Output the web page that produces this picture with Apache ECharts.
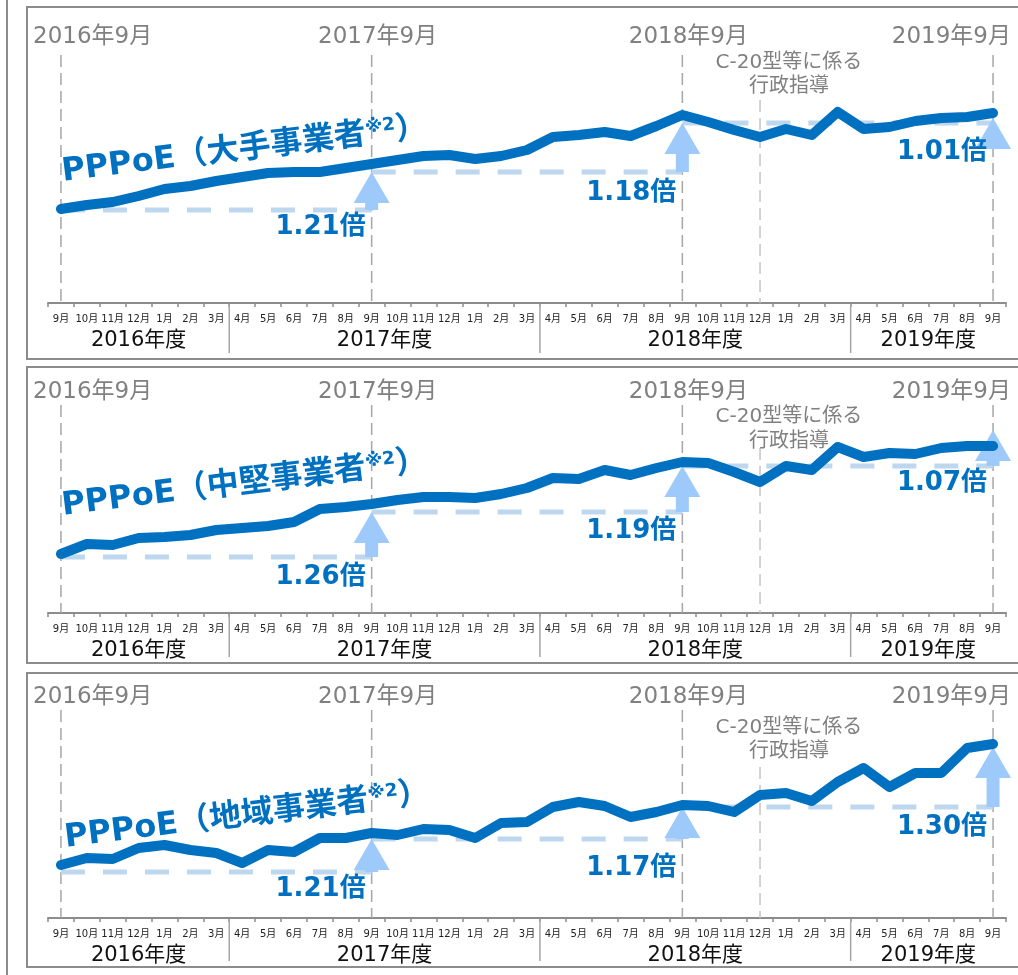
<!DOCTYPE html>
<html><head><meta charset="utf-8">
<script src="https://cdn.jsdelivr.net/npm/echarts@6/dist/echarts.min.js"></script>
<style>html,body{margin:0;padding:0;background:#fff}#c{width:1018px;height:975px}</style>
</head><body><div id="c"></div>
<script>
// ---------- data ----------
const months = ['9月','10月','11月','12月','1月','2月','3月','4月','5月','6月','7月','8月','9月','10月','11月','12月','1月','2月','3月','4月','5月','6月','7月','8月','9月','10月','11月','12月','1月','2月','3月','4月','5月','6月','7月','8月','9月'];
const fiscalYears = ['2016年度','2017年度','2018年度','2019年度'];
const fiscalStart = [0, 7, 19, 31, 37];
const markMonths = [0, 12, 24, 36];
const markLabels = ['2016年9月','2017年9月','2018年9月','2019年9月'];
const guidanceMonth = 27;
const guidanceText = ['C-20型等に係る','行政指導'];

const seriesNames = ['大手事業者','中堅事業者','地域事業者'];
const largeValues = [94,98,101,107,114,117,122,126,130,131,131,135,139,143,147,148,144,147,153,166,168,171,167,177,188,181,173,166,174,168,191,174,176,182,185,186,190];
const midValues = [59,69,68,75,76,78,83,85,87,91,104,106,109,113,116,116,115,119,125,135,134,143,138,145,151,150,141,131,147,143,166,156,160,159,165,167,167];
const regionalValues = [53,60,59,70,73,68,65,55,68,66,80,80,85,83,89,88,80,95,96,111,116,112,101,106,113,112,106,123,125,117,136,150,131,145,145,170,174];

const largeLevels = [93,131,180,185];
const midLevels = [56,101,147,183];
const regionalLevels = [46,79,111,171];

const largeRatios = ['1.21倍','1.18倍','1.01倍'];
const midRatios = ['1.26倍','1.19倍','1.07倍'];
const regionalRatios = ['1.21倍','1.17倍','1.30倍'];

// ---------- layout ----------
const FONT = '"DejaVu Sans", "Noto Sans CJK JP", sans-serif';
const panels = [
  {values: largeValues, levels: largeLevels, ratios: largeRatios, name: seriesNames[0],
   gridTop: 33, yMax: 270, boxTop: 7, boxBottom: 359, markTop: 248, guideTop: 203, labelVal: 266,
   guideVals: [240, 216], titleIdx: 7.1, titleVal: 153, ratioVals: [76,110,151]},
  {values: midValues, levels: midLevels, ratios: midRatios, name: seriesNames[1],
   gridTop: 388, yMax: 225, boxTop: 367, boxBottom: 663, markTop: 208, guideTop: 165, labelVal: 221,
   guideVals: [196, 171], titleIdx: 7.1, titleVal: 129, ratioVals: [36,82,130]},
  {values: regionalValues, levels: regionalLevels, ratios: regionalRatios, name: seriesNames[2],
   gridTop: 693, yMax: 225, boxTop: 673, boxBottom: 967, markTop: 208, guideTop: 151, labelVal: 221,
   guideVals: [190, 166], titleIdx: 7.2, titleVal: 102, ratioVals: [29,50,91]}
];

const chart = echarts.init(document.getElementById('c'), null, {renderer: 'canvas'});

function underItem(p) {
  const P = panels[p];
  return function (params, api) {
    const ch = [];
    const axisY = api.coord([0, 0])[1];
    markMonths.forEach(m => {
      const a = api.coord([m, P.markTop]), b = api.coord([m, 0]);
      ch.push({type: 'line', shape: {x1: a[0], y1: a[1], x2: b[0], y2: b[1]},
        style: {stroke: '#A6A6A6', lineWidth: 1.5, lineDash: [12, 6]}});
    });
    {
      const a = api.coord([guidanceMonth, P.guideTop]), b = api.coord([guidanceMonth, 0]);
      ch.push({type: 'line', shape: {x1: a[0], y1: a[1], x2: b[0], y2: b[1]},
        style: {stroke: '#C4C4C4', lineWidth: 1.5, lineDash: [12, 6]}});
    }
    for (let k = 0; k < 3; k++) {
      const a = api.coord([markMonths[k], P.levels[k]]), b = api.coord([markMonths[k + 1], P.levels[k]]);
      ch.push({type: 'line', shape: {x1: a[0], y1: a[1], x2: b[0], y2: b[1]},
        style: {stroke: '#BDD7EE', lineWidth: 5, lineDash: [24, 18]}});
    }
    for (let k = 0; k < 3; k++) {
      const x = api.coord([markMonths[k + 1], 0])[0];
      const yBase = api.coord([0, P.levels[k]])[1];
      const yTip = api.coord([0, P.levels[k + 1]])[1];
      const hh = 31, hw = 18, sw = 6.5;
      const hb = yTip + hh;
      let pts;
      if (yBase > hb) {
        pts = [[x, yTip], [x + hw, hb], [x + sw, hb], [x + sw, yBase], [x - sw, yBase], [x - sw, hb], [x - hw, hb]];
      } else {
        pts = [[x, yTip], [x + hw, hb], [x - hw, hb]];
      }
      ch.push({type: 'polygon', shape: {points: pts}, style: {fill: '#9DCAFB'}});
    }
    for (let f = 1; f < fiscalYears.length; f++) {
      const s = fiscalStart[f];
      const x = (api.coord([s - 1, 0])[0] + api.coord([s, 0])[0]) / 2;
      ch.push({type: 'line', shape: {x1: x, y1: axisY + 4, x2: x, y2: P.boxBottom - 6},
        style: {stroke: '#A6A6A6', lineWidth: 1.5}});
    }
    return {type: 'group', children: ch};
  };
}

function overItem(p) {
  const P = panels[p];
  return function (params, api) {
    const ch = [];
    const axisY = api.coord([0, 0])[1];
    markMonths.forEach((m, i) => {
      const c = api.coord([m, P.labelVal]);
      let x = c[0] + 6, align = 'center';
      if (i === 0) { x = 33; align = 'left'; }
      if (i === markMonths.length - 1) { x = 1011; align = 'right'; }
      ch.push({type: 'text', x: x, y: c[1], style: {text: markLabels[i], fill: '#808080',
        fontSize: 23, fontFamily: FONT, align: align, verticalAlign: 'middle'}});
    });
    guidanceText.forEach((t, i) => {
      const c = api.coord([guidanceMonth + 1, P.guideVals[i]]);
      ch.push({type: 'text', x: c[0] + 3, y: c[1], style: {text: t, fill: '#808080',
        fontSize: 20, fontFamily: FONT, align: 'center', verticalAlign: 'middle'}});
    });
    for (let k = 0; k < 3; k++) {
      const c = api.coord([markMonths[k + 1], P.ratioVals[k]]);
      ch.push({type: 'text', x: c[0] - 6, y: c[1], style: {text: P.ratios[k], fill: '#0070C0',
        fontSize: 26, fontWeight: 'bold', fontFamily: FONT, align: 'right', verticalAlign: 'middle'}});
    }
    for (let f = 0; f < fiscalYears.length; f++) {
      const x0 = api.coord([fiscalStart[f], 0])[0], x1 = api.coord([fiscalStart[f + 1] - 1, 0])[0];
      ch.push({type: 'text', x: (x0 + x1) / 2, y: axisY + 38, style: {text: fiscalYears[f], fill: '#111',
        fontSize: 21, fontFamily: FONT, align: 'center', verticalAlign: 'middle'}});
    }
    {
      const i0 = Math.floor(P.titleIdx), fr = P.titleIdx - i0;
      const xa = api.coord([i0, P.titleVal]), xb = api.coord([i0 + 1, P.titleVal]);
      ch.push({type: 'text', x: xa[0] + (xb[0] - xa[0]) * fr, y: xa[1], rotation: 7 * Math.PI / 180,
        style: {text: '{a|PPPoE（' + P.name + '}{b|※2}{a|）}', align: 'center', verticalAlign: 'middle',
          rich: {
            a: {fontSize: 32, fontWeight: 'bold', fill: '#0070C0', fontFamily: FONT},
            b: {fontSize: 18, fontWeight: 'bold', fill: '#0070C0', fontFamily: FONT, verticalAlign: 'top'}
          }}});
    }
    return {type: 'group', children: ch};
  };
}

const grids = [], xAxes = [], yAxes = [], series = [];
panels.forEach((P, p) => {
  grids.push({left: 48, right: 12, top: P.gridTop, height: P.yMax});
  xAxes.push({gridIndex: p, type: 'category', data: months, boundaryGap: true,
    axisLine: {lineStyle: {color: '#8C8C8C', width: 2}},
    axisTick: {show: true, length: 4, interval: 0, lineStyle: {color: '#8C8C8C', width: 1.5}},
    axisLabel: {interval: 0, fontSize: 10, color: '#222', margin: 11, fontFamily: FONT},
    splitLine: {show: false}});
  yAxes.push({gridIndex: p, type: 'value', min: 0, max: P.yMax, show: false, splitLine: {show: false}});
  series.push({type: 'custom', xAxisIndex: p, yAxisIndex: p, z: 1, clip: false, silent: true,
    data: [0], renderItem: underItem(p)});
  series.push({type: 'line', xAxisIndex: p, yAxisIndex: p, z: 3, name: P.name, data: P.values,
    symbol: 'none', smooth: false,
    lineStyle: {color: '#0070C0', width: 10, cap: 'round', join: 'round'}});
  series.push({type: 'custom', xAxisIndex: p, yAxisIndex: p, z: 5, clip: false, silent: true,
    data: [0], renderItem: overItem(p)});
});

const graphics = [
  {type: 'line', shape: {x1: 7, y1: 0, x2: 7, y2: 975}, style: {stroke: '#8C8C8C', lineWidth: 2}, z: 0}
];
panels.forEach(P => {
  graphics.push({type: 'rect', shape: {x: 27, y: P.boxTop, width: 1010, height: P.boxBottom - P.boxTop},
    style: {fill: null, stroke: '#8C8C8C', lineWidth: 2}, z: 0});
});

chart.setOption({
  animation: false,
  backgroundColor: '#fff',
  grid: grids, xAxis: xAxes, yAxis: yAxes, series: series, graphic: graphics
});
</script></body></html>
